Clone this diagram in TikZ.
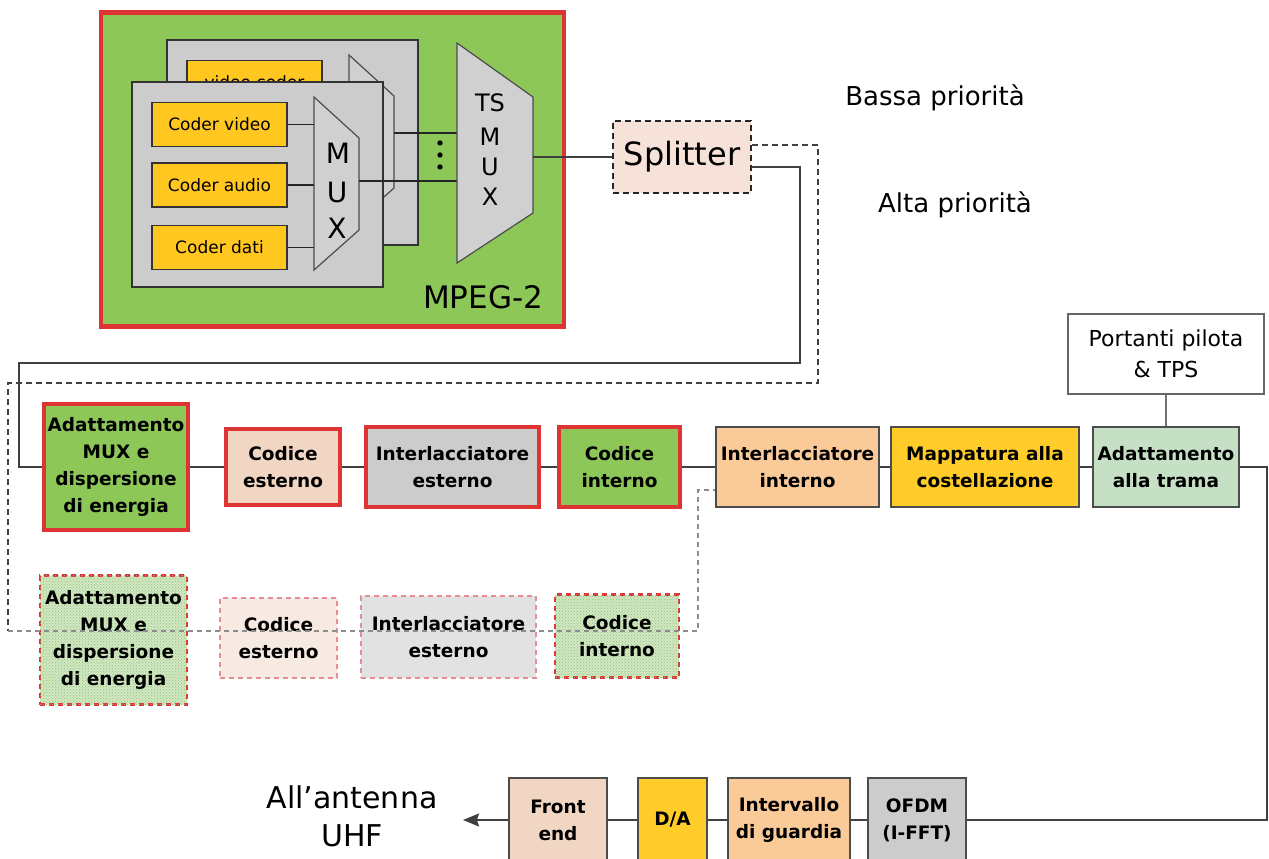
\documentclass[tikz,border=0pt]{standalone}
\usepackage{fontspec}
\setmainfont{DejaVu Sans}
\usetikzlibrary{patterns,arrows.meta}
\definecolor{mpgreen}{RGB}{141,199,88}
\definecolor{myred}{RGB}{222,52,52}
\definecolor{panelgray}{RGB}{204,204,204}
\definecolor{muxgray}{RGB}{208,208,208}
\definecolor{coderyel}{RGB}{255,199,32}
\definecolor{peach}{RGB}{242,214,196}
\definecolor{orangef}{RGB}{250,202,152}
\definecolor{gold}{RGB}{255,204,41}
\definecolor{ltgreen}{RGB}{198,224,198}
\definecolor{splfill}{RGB}{246,226,216}
\definecolor{mypink}{RGB}{232,140,150}
\definecolor{hgreen}{RGB}{208,232,192}
\definecolor{hatchc}{RGB}{150,190,135}
\definecolor{lpeach}{RGB}{247,234,226}
\definecolor{lgray}{RGB}{226,226,226}
\begin{document}
\begin{tikzpicture}[x=1pt,y=-1pt,
  conn/.style={draw=black!75,line width=1.5pt},
  blk/.style={draw=black!70,line width=1.3pt,align=center,inner sep=1pt,font=\fontsize{18.5}{27}\selectfont\bfseries},
  redbox/.style={blk,draw=myred,line width=4.5pt},
  reddash/.style={blk,draw=myred,line width=2.2pt,dash pattern=on 5pt off 4pt},
  pinkdash/.style={blk,draw=mypink,line width=1.6pt,dash pattern=on 5pt off 4pt},
  hatch/.style={postaction={pattern=crosshatch dots,pattern color=hatchc}},
  coder/.style={draw=black!80,line width=1.5pt,fill=coderyel,minimum width=135pt,minimum height=44pt,font=\fontsize{17}{20}\selectfont,inner sep=0pt},
  panel/.style={draw=black!80,line width=1.5pt,fill=panelgray},
  muxs/.style={draw=black!70,line width=1.2pt,fill=muxgray},
  muxt/.style={font=\fontsize{28}{30}\selectfont,inner sep=0pt},
  tst/.style={font=\fontsize{24}{26}\selectfont,inner sep=0pt},
  big/.style={font=\fontsize{26}{34}\selectfont,align=center}
]
\path[use as bounding box] (0,0) rectangle (1269,859);
\clip (0,0) rectangle (1269,859);

% ---------------- MPEG-2 block
\node[draw=myred,line width=4.5pt,fill=mpgreen,minimum width=463pt,minimum height=314pt,inner sep=0pt] (mpeg) at (332.5,169.5) {};
% back layer
\draw[panel] (167,40) rectangle (418,245);
\node[coder] (bvc) at (254.5,82.5) {video coder};
\draw[muxs] (349,55) -- (394,96) -- (394,188) -- (349,228) -- cycle;
\node[muxt] (bm1) at (374,111) {M};
\node[muxt] (bm2) at (373,150) {U};
\node[muxt] (bm3) at (373,186) {X};
% front layer
\draw[panel] (132,82) rectangle (383,287);
\node[coder] (cv) at (219.5,124.5) {Coder video};
\node[coder] (ca) at (219.5,185) {Coder audio};
\node[coder] (cd) at (219.5,247.5) {Coder dati};
\draw[muxs] (314,97) -- (359,138) -- (359,230) -- (314,270) -- cycle;
\node[muxt] (fm1) at (338,153) {M};
\node[muxt] (fm2) at (337,192) {U};
\node[muxt] (fm3) at (337,228) {X};
\coordinate (mi1) at (314,124.5);
\coordinate (mi2) at (314,185);
\coordinate (mi3) at (314,247.5);
\draw[conn,draw=black!85,line width=1.8pt] (cv) -- (mi1);
\draw[conn,draw=black!85,line width=1.8pt] (ca) -- (mi2);
\draw[conn,draw=black!85,line width=1.8pt] (cd) -- (mi3);
\coordinate (bmo) at (394,133);
\coordinate (tsi1) at (457,133);
\coordinate (fmo) at (359,181);
\coordinate (tsi2) at (457,181);
\draw[conn,draw=black!85,line width=1.8pt] (bmo) -- (tsi1);
\draw[conn,draw=black!85,line width=1.8pt] (fmo) -- (tsi2);
\fill (440,143) circle (2.7);
\fill (440,155) circle (2.7);
\fill (440,167) circle (2.7);
% TS MUX
\draw[muxs] (457,43) -- (533,97) -- (533,213) -- (457,263) -- cycle;
\node[tst] (ts1) at (490,103) {TS};
\node[tst] (ts2) at (490,137) {M};
\node[tst] (ts3) at (490,167) {U};
\node[tst] (ts4) at (490,197) {X};
\node[font=\fontsize{31}{34}\selectfont,inner sep=0pt] (mpl) at (483,297) {MPEG-2};

% ---------------- Splitter
\node[draw=black!85,line width=2pt,dash pattern=on 6pt off 4pt,fill=splfill,minimum width=138pt,minimum height=72pt,font=\fontsize{32}{36}\selectfont] (spl) at (682,157) {Splitter};
\coordinate (tso) at (533,157);
\draw[conn] (tso) -- (spl);

\node[big,inner sep=0pt] (bassa) at (935,98) {Bassa priorità};
\node[big,inner sep=0pt] (alta) at (955,205) {Alta priorità};

% ---------------- Row 1 (alta priorita)
\node[redbox,fill=mpgreen,minimum width=144pt,minimum height=126pt] (a1) at (116,467) {Adattamento\\MUX e\\dispersione\\di energia};
\node[redbox,fill=peach,minimum width=114pt,minimum height=76pt] (b1) at (283,467) {Codice\\esterno};
\node[redbox,fill=panelgray,minimum width=173pt,minimum height=80pt] (c1) at (452.5,467) {Interlacciatore\\esterno};
\node[redbox,fill=mpgreen,minimum width=121pt,minimum height=80pt] (d1) at (619.5,467) {Codice\\interno};
\node[blk,fill=orangef,minimum width=163pt,minimum height=80pt] (e1) at (797.5,467) {Interlacciatore\\interno};
\node[blk,fill=gold,minimum width=188pt,minimum height=80pt] (f1) at (985,467) {Mappatura alla\\costellazione};
\node[blk,fill=ltgreen,minimum width=146pt,minimum height=80pt] (g1) at (1166,467) {Adattamento\\alla trama};
\node[blk,draw=black!60,fill=white,font=\fontsize{22}{31}\selectfont,minimum width=196pt,minimum height=80pt] (pt) at (1166,354) {Portanti pilota\\\& TPS};
\draw[conn,draw=black!55] (pt) -- (g1);

\draw[conn] (a1) -- (b1) -- (c1) -- (d1) -- (e1) -- (f1) -- (g1);

% ---------------- Row 2 (bassa priorita)
\node[reddash,fill=hgreen,hatch,minimum width=147pt,minimum height=129pt] (a2) at (113.5,640) {Adattamento\\MUX e\\dispersione\\di energia};
\node[pinkdash,fill=lpeach,minimum width=117pt,minimum height=80pt] (b2) at (278.5,638) {Codice\\esterno};
\node[pinkdash,fill=lgray,minimum width=175pt,minimum height=82pt] (c2) at (448.5,637) {Interlacciatore\\esterno};
\node[reddash,fill=hgreen,hatch,minimum width=124pt,minimum height=83pt] (d2) at (617,636) {Codice\\interno};

% ---------------- Splitter outputs
\draw[conn] ([yshift=-10pt]spl.east) -- (800,167) -- (800,363) -- (19,363) |- (a1.west);
\draw[conn,dash pattern=on 6pt off 4pt] ([yshift=12pt]spl.east) -- (818,145) -- (818,383) -- (8,383) -- (8,631);
\draw[draw=black!45,line width=1.3pt,dash pattern=on 5pt off 4pt] (8,631) -- (698,631) |- ([yshift=-23pt]e1.west);

% ---------------- Bottom row
\node[blk,fill=peach,minimum width=98pt,minimum height=84pt] (fe) at (558,820) {Front\\end};
\node[blk,fill=gold,minimum width=69pt,minimum height=84pt] (da) at (672.5,820) {D/A};
\node[blk,fill=orangef,minimum width=122pt,minimum height=84pt] (ig) at (789,820) {Intervallo\\di guardia};
\node[blk,fill=panelgray,minimum width=98pt,minimum height=84pt] (of) at (917,820) {OFDM\\(I-FFT)};

\draw[conn] (g1) -- (1267,467) |- (of);
\draw[conn] (of) -- (ig) -- (da) -- (fe);
\coordinate (ant) at (463,820);
\draw[conn,-{Stealth[length=16pt,width=13pt,inset=2pt]}] (fe) -- (ant);
\node[font=\fontsize{30}{38}\selectfont,align=center,inner sep=0pt] (antt) at (352,816) {All'antenna\\UHF};
\end{tikzpicture}
\end{document}
